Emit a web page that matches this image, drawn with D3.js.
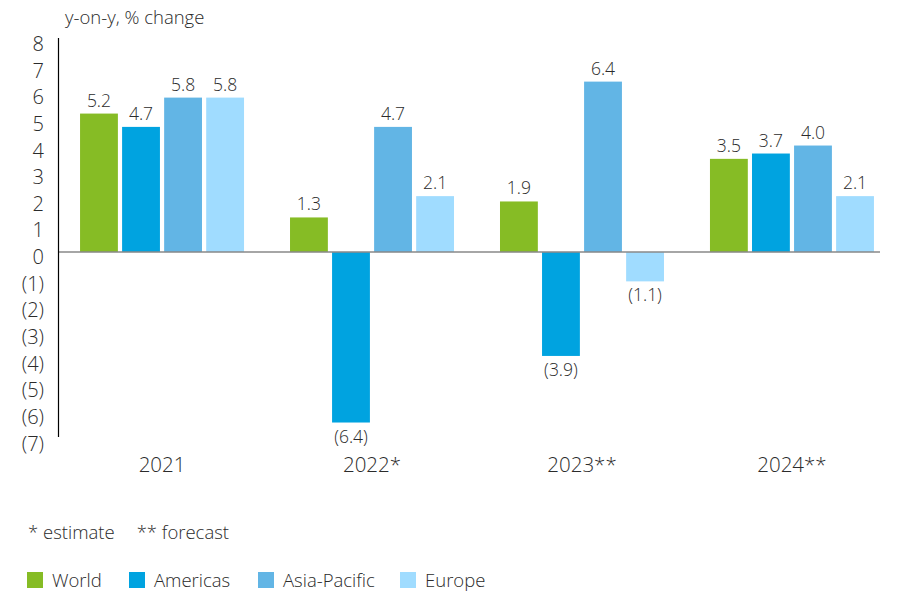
<!DOCTYPE html>
<html>
<head>
<meta charset="utf-8">
<script src="https://cdn.jsdelivr.net/npm/d3@7"></script>
<style>
  body { margin: 0; background: #fff; }
  svg text { font-family: "Open Sans", sans-serif; font-weight: 300; fill: #2b2b2b; }
</style>
</head>
<body>
<div id="chart"></div>
<script>
const years = ["2021", "2022*", "2023**", "2024**"];
const seriesNames = ["World", "Americas", "Asia-Pacific", "Europe"];
const world = [5.2, 1.3, 1.9, 3.5];
const americas = [4.7, -6.4, -3.9, 3.7];
const asiaPacific = [5.8, 4.7, 6.4, 4.0];
const europe = [5.8, 2.1, -1.1, 2.1];
const yTicks = [8, 7, 6, 5, 4, 3, 2, 1, 0, -1, -2, -3, -4, -5, -6, -7];
const colors = ["#86bc25", "#00a3e0", "#62b5e5", "#a0dcff"];

const allSeries = [world, americas, asiaPacific, europe];
const width = 900, height = 593;

const svg = d3
  .select("#chart")
  .append("svg")
  .attr("width", width)
  .attr("height", height);

const x = d3.scaleBand().domain(years).range([58, 896]).paddingInner(0.219).paddingOuter(0.105);
const xInner = d3.scaleBand().domain(seriesNames).range([0, x.bandwidth()]).paddingInner(0.1);
const y = d3.scaleLinear().domain([-7, 8]).range([438.5, 39]);

// Y axis title
svg.append("text").attr("x", 65).attr("y", 24).style("font-size", "18.5px").text("y-on-y, % change");

// Y tick labels
svg
  .selectAll(".ytick")
  .data(yTicks)
  .join("text")
  .attr("x", 44)
  .attr("y", (d) => y(d) + 12)
  .attr("text-anchor", "end")
  .style("font-size", "20px")
  .text((d) => (d < 0 ? `(${-d})` : d));

// Bars
const groups = svg
  .selectAll(".grp")
  .data(years)
  .join("g")
  .attr("transform", (d) => `translate(${x(d)},0)`);

groups
  .selectAll("rect")
  .data((d, i) => seriesNames.map((s, j) => ({ name: s, value: allSeries[j][i], c: colors[j] })))
  .join("rect")
  .attr("x", (d) => xInner(d.name))
  .attr("width", xInner.bandwidth())
  .attr("y", (d) => y(Math.max(0, d.value)))
  .attr("height", (d) => Math.abs(y(d.value) - y(0)))
  .attr("fill", (d) => d.c);

groups
  .selectAll(".val")
  .data((d, i) => seriesNames.map((s, j) => ({ name: s, value: allSeries[j][i] })))
  .join("text")
  .attr("x", (d) => xInner(d.name) + xInner.bandwidth() / 2)
  .attr("y", (d) => (d.value >= 0 ? y(d.value) - 7 : y(d.value) + 20))
  .attr("text-anchor", "middle")
  .style("font-size", "17.5px")
  .text((d) => (d.value < 0 ? `(${(-d.value).toFixed(1)})` : d.value.toFixed(1)));

// Zero line
svg.append("line").attr("x1", 58).attr("x2", 880).attr("y1", y(0)).attr("y2", y(0))
  .attr("stroke", "#888").attr("stroke-width", 1.5);

// Y axis line
svg.append("line").attr("x1", 58.5).attr("x2", 58.5).attr("y1", 38).attr("y2", 437)
  .attr("stroke", "#000").attr("stroke-width", 1.2);

// Category labels
svg
  .selectAll(".xlab")
  .data(years)
  .join("text")
  .attr("x", (d) => x(d) + x.bandwidth() / 2)
  .attr("y", 472)
  .attr("text-anchor", "middle")
  .style("font-size", "20.5px")
  .text((d) => d);

// Footnote
svg.append("text").attr("x", 28).attr("y", 539).style("font-size", "18.5px")
  .text("* estimate").append("tspan").attr("dx", 22).text("** forecast");

// Legend
const legendX = [27, 129, 258, 400];
const legend = svg
  .selectAll(".leg")
  .data(seriesNames)
  .join("g")
  .attr("transform", (d, i) => `translate(${legendX[i]},572)`);
legend.append("rect").attr("width", 16).attr("height", 16).attr("fill", (d, i) => colors[i]);
legend.append("text").attr("x", 25).attr("y", 15).style("font-size", "18.5px").text((d) => d);
</script>
</body>
</html>
